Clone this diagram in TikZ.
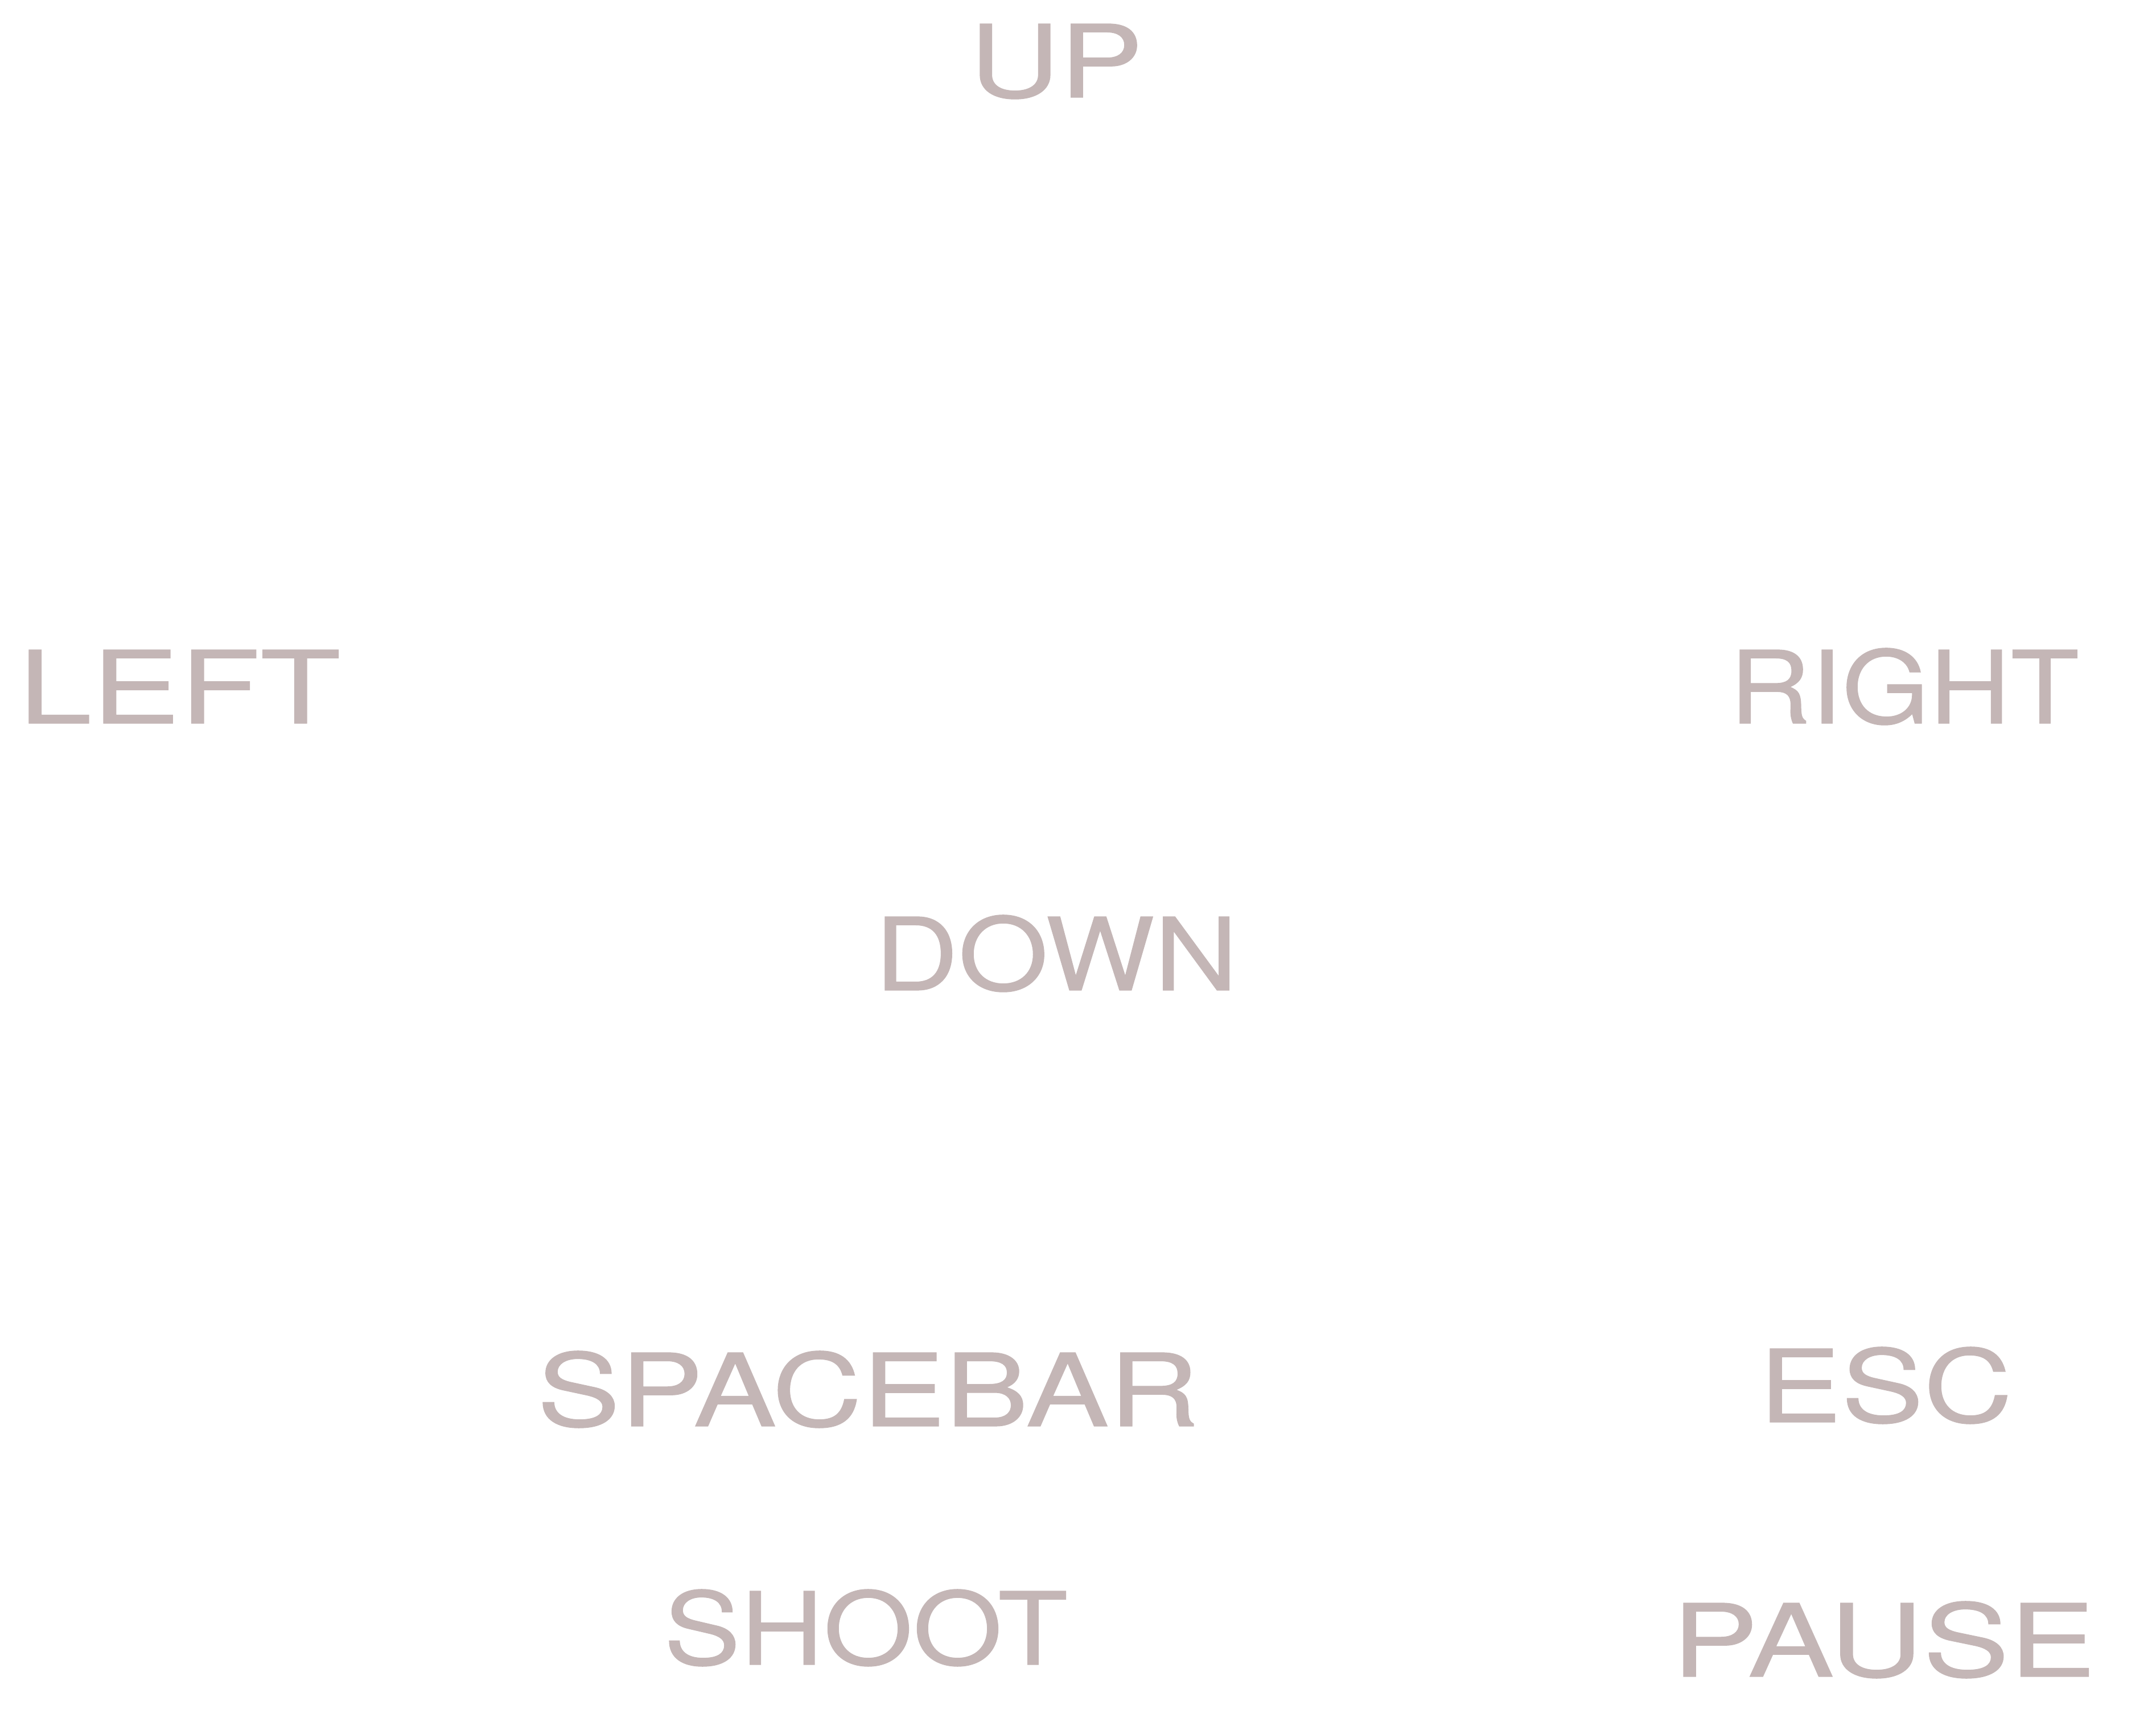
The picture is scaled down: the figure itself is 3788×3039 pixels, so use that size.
\documentclass[tikz,border=0pt]{standalone}
\usepackage{fontspec}
\setmainfont{TeX Gyre Heros}
\newfontfamily\keyfont[FakeBold=0.6]{TeX Gyre Heros}
\usepackage{graphicx}
\definecolor{keygrey}{RGB}{196,182,182}
\tikzset{
  keylabel/.style={anchor=south west, inner sep=0pt, outer sep=0pt, text=keygrey, font=\keyfont\fontsize{40}{40}\selectfont}
}
% ink-tight word: #1 first letter, #2 last letter, #3 word
\newcommand{\inkword}[3]{%
  \begingroup
  \dimen0=\XeTeXglyphbounds1 \XeTeXcharglyph`#1\relax
  \dimen2=\XeTeXglyphbounds3 \XeTeXcharglyph`#2\relax
  \dimen4=\fontcharht\font`H\relax
  \kern-\dimen0\smash{#3}\kern-\dimen2\rule{0pt}{\dimen4}%
  \endgroup}
\newcommand{\fitword}[5]{\resizebox{#1cm}{#2cm}{\inkword{#3}{#4}{#5}}}
\begin{document}
\begin{tikzpicture}[x=0.01cm,y=-0.01cm]
\useasboundingbox (0,0) rectangle (3788,3039);
\node[keylabel] (up)       at (1722,171)  {\fitword{2.75}{1.29}{U}{P}{UP}};
\node[keylabel] (left)     at (51,1271)   {\fitword{5.43}{1.29}{L}{T}{LEFT}};
\node[keylabel] (right)    at (3057,1271) {\fitword{5.92}{1.29}{R}{T}{RIGHT}};
\node[keylabel] (down)     at (1555,1740) {\fitword{6.04}{1.29}{D}{N}{DOWN}};
\node[keylabel] (spacebar) at (954,2506)  {\fitword{11.42}{1.29}{S}{R}{SPACEBAR}};
\node[keylabel] (esc)      at (3110,2499) {\fitword{4.16}{1.29}{E}{C}{ESC}};
\node[keylabel] (shoot)    at (1176,2925) {\fitword{6.96}{1.29}{S}{T}{SHOOT}};
\node[keylabel] (pause)    at (2958,2946) {\fitword{7.11}{1.29}{P}{E}{PAUSE}};
\end{tikzpicture}
\end{document}
